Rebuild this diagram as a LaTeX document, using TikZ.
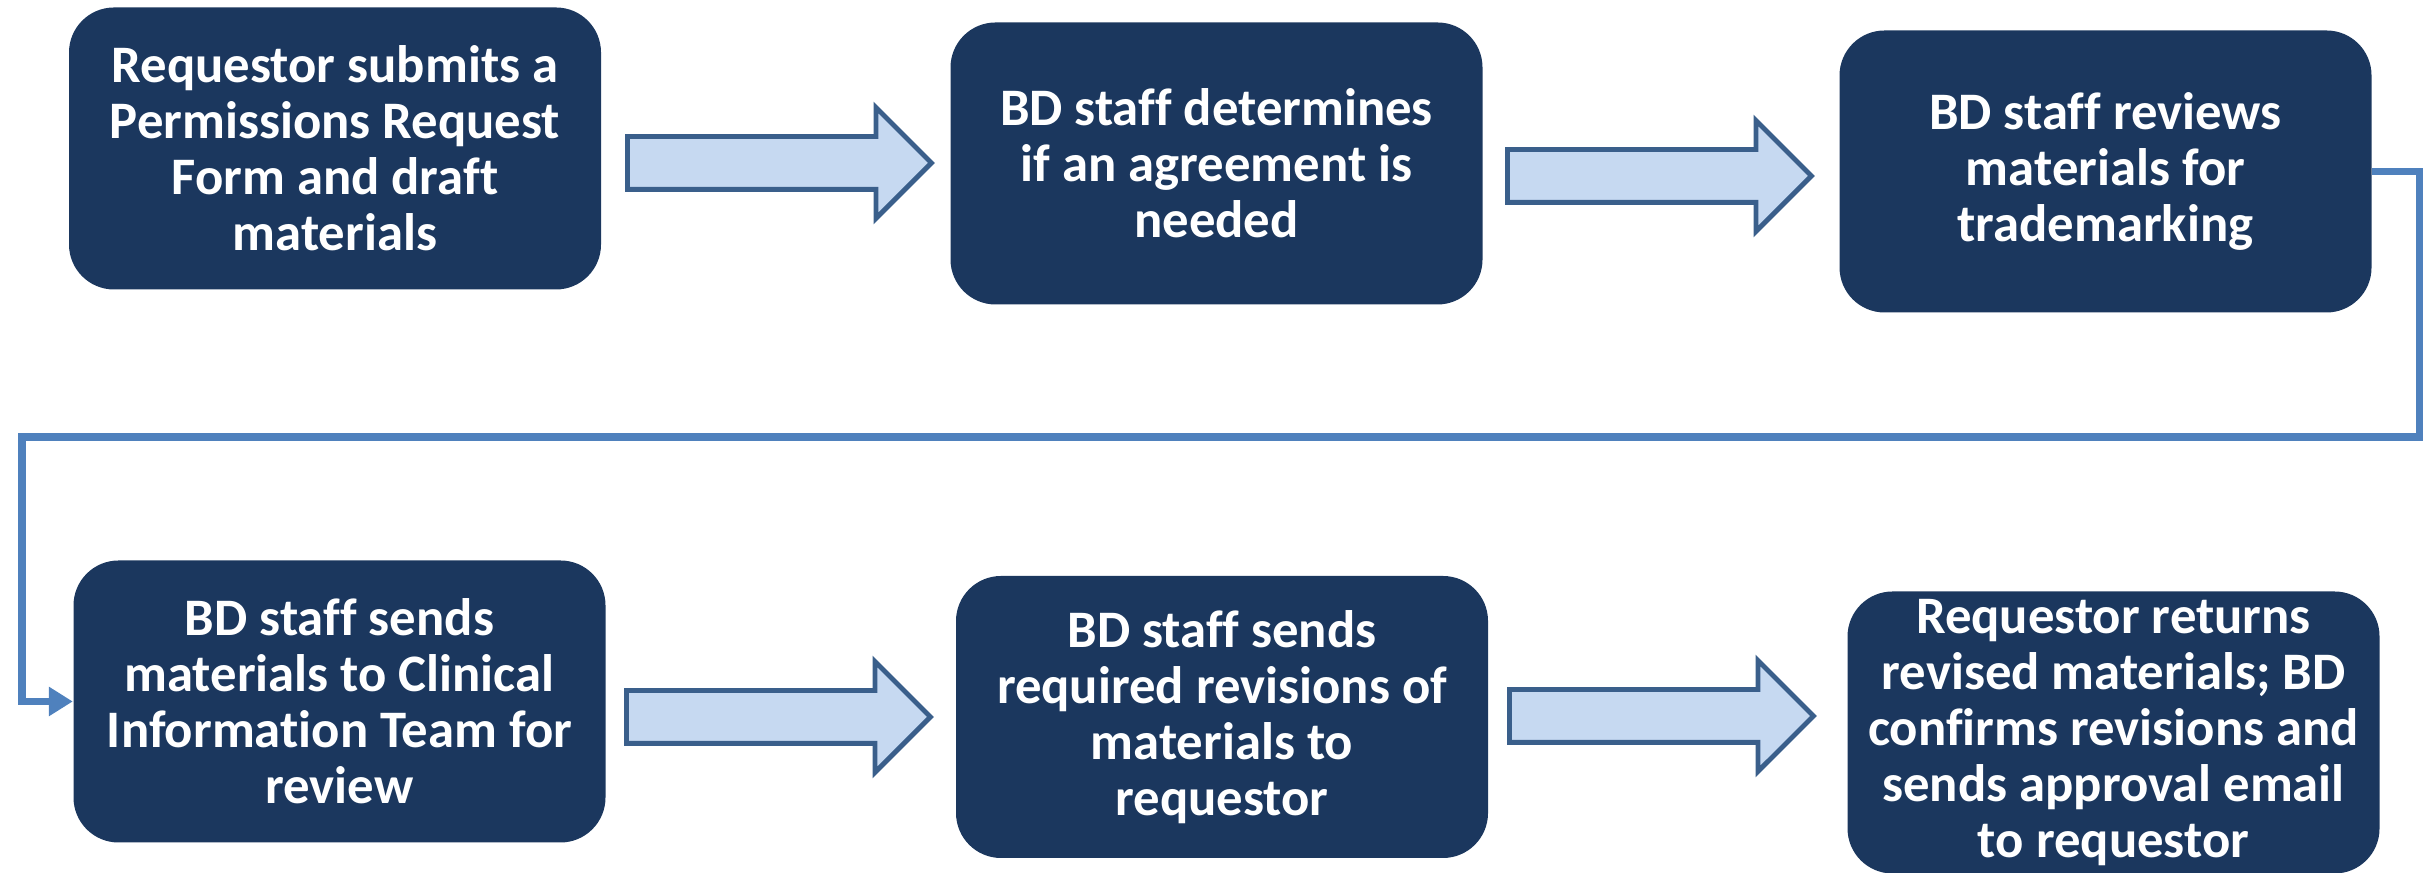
\documentclass[tikz,border=0pt]{standalone}
\usepackage{fontspec}
\setmainfont{Carlito}[Ligatures=NoCommon]
\usetikzlibrary{shapes,arrows,arrows.meta,positioning}
\definecolor{navy}{HTML}{1B375E}
\definecolor{arrowfill}{HTML}{C6D9F1}
\definecolor{arrowline}{HTML}{3A5F8B}
\definecolor{linkblue}{HTML}{4F81BD}
\tikzstyle{block} = [rectangle, fill=navy, text=white, rounded corners=0.45cm,
minimum width=5.32cm, minimum height=2.82cm, inner sep=0pt, align=center,
font=\bfseries\fontsize{15}{15.9}\selectfont]
\tikzstyle{bigarrow} = [single arrow, draw=arrowline, fill=arrowfill, line width=1.4pt,
minimum height=3.04cm, minimum width=1.06cm, single arrow head extend=0.29cm,
inner sep=0.24cm, anchor=tail]
\tikzstyle{link} = [draw=linkblue, line width=2.2pt, -{Triangle[length=0.24cm,width=0.28cm]}]

\begin{document}
\begin{tikzpicture}[node distance=8.8cm]
	\useasboundingbox (0,0) rectangle (24.23,8.73);
	% Place nodes
	\node [block] (req) at (3.35,7.245) {Requestor submits a\\Permissions Request\\Form and draft\\materials};
	\node [block, right of=req, node distance=8.815cm, yshift=-0.15cm] (need) {BD staff determines\\if an agreement is\\needed};
	\node [block, right of=need, node distance=8.89cm, yshift=-0.08cm] (review) {BD staff reviews\\materials for\\trademarking};
	\node [block] (cit) at (3.395,1.715) {BD staff sends\\materials to Clinical\\Information Team for\\review};
	\node [block, right of=cit, node distance=8.825cm, yshift=-0.155cm] (revs) {BD staff sends\\required revisions of\\materials to\\requestor};
	\node [block, right of=revs, node distance=8.915cm, yshift=-0.155cm] (approve) {Requestor returns\\revised materials; BD\\confirms revisions and\\sends approval email\\to requestor};

	% Block arrows
	\node [bigarrow] (a1) at (6.25,7.10) {};
	\node [bigarrow] (a2) at (15.05,6.97) {};
	\node [bigarrow] (a3) at (6.24,1.56) {};
	\node [bigarrow] (a4) at (15.07,1.57) {};

	% Return line to second row
	\coordinate (bendR) at (24.20,4.36);
	\coordinate (bendL) at (0.22,4.36);
	\path [link] (review.east) -| (bendR) -- (bendL) |- (cit.west);
\end{tikzpicture}
\end{document}
